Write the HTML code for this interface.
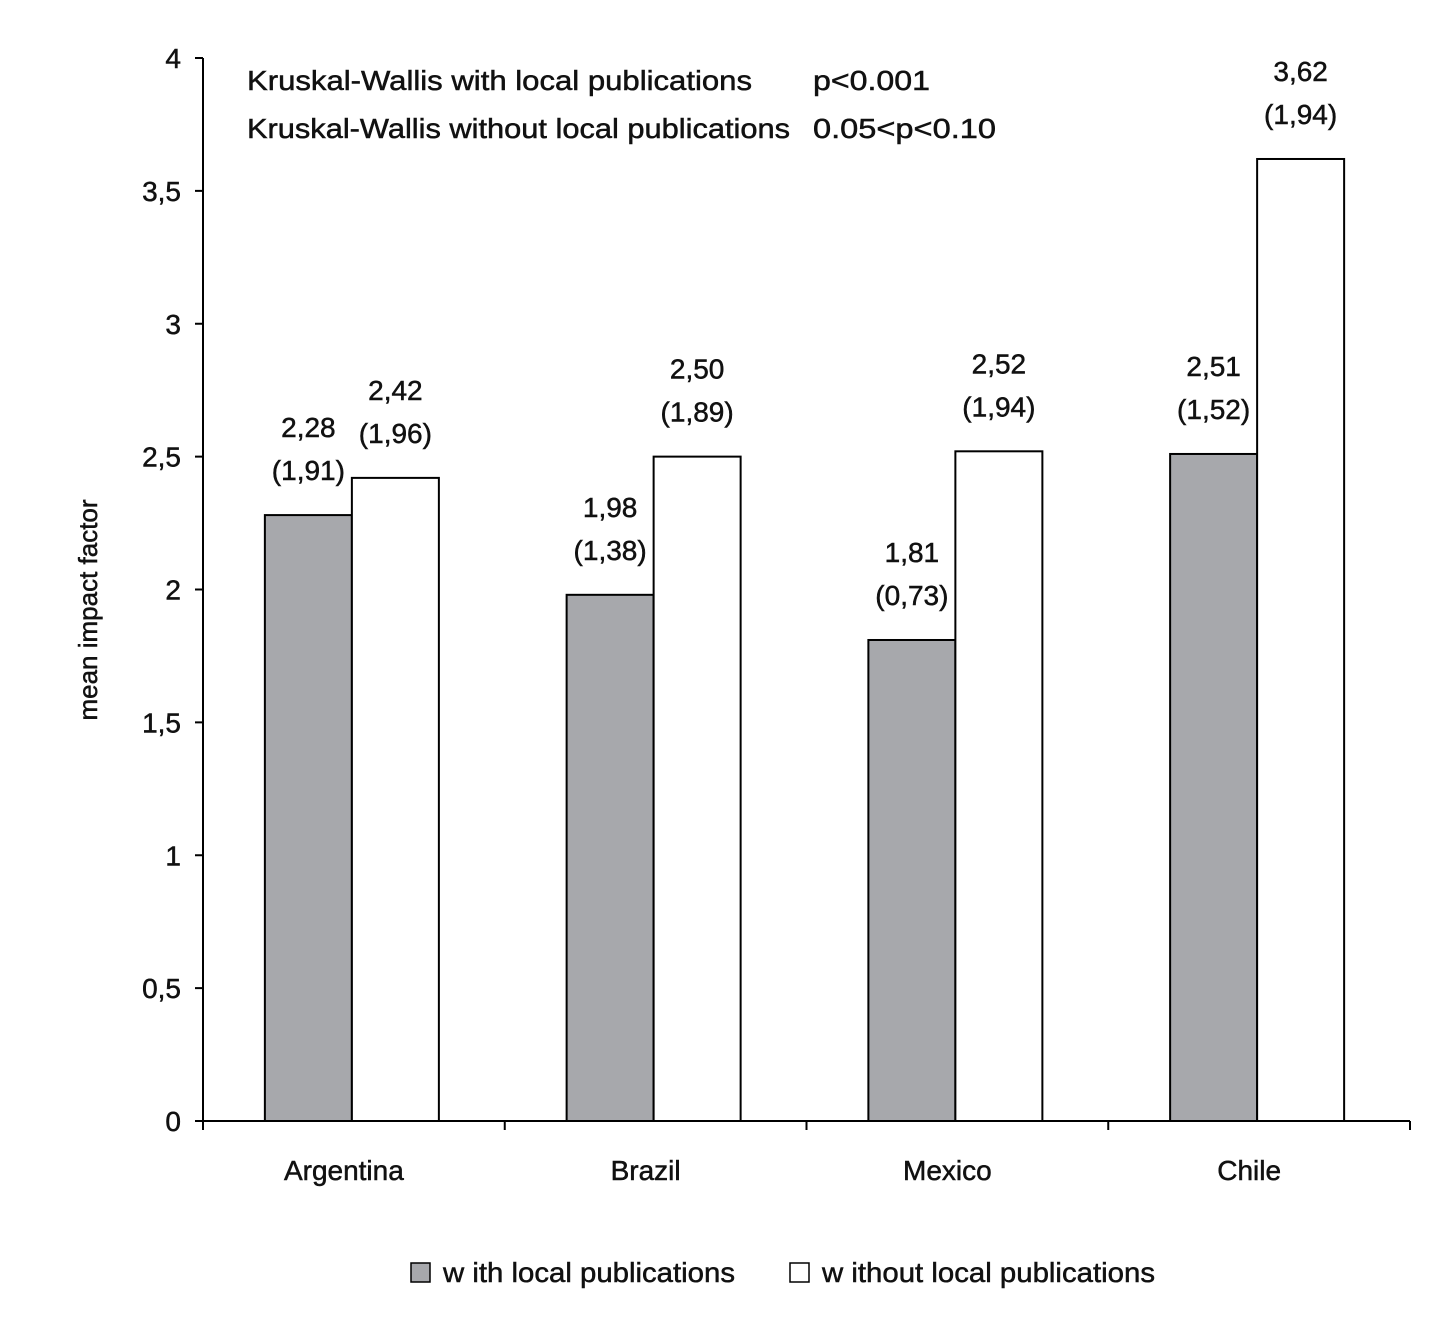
<!DOCTYPE html>
<html><head><meta charset="utf-8"><style>
body{margin:0;background:#fff}
svg text{font-family:"Liberation Sans Narrow","Liberation Sans",sans-serif;fill:#111;stroke:#111;stroke-width:0.5}
</style></head><body>
<svg width="1450" height="1316" viewBox="0 0 1450 1316">
<g id="chart"></g>
</svg>
<script>
const categories=["Argentina","Brazil","Mexico","Chile"];
const withLocal=[2.28,1.98,1.81,2.51];
const withoutLocal=[2.42,2.50,2.52,3.62];
const withLocalSd=["1,91","1,38","0,73","1,52"];
const withoutLocalSd=["1,96","1,89","1,94","1,94"];
const yTicks=[0,0.5,1,1.5,2,2.5,3,3.5,4];
const yTickLabels=["0","0,5","1","1,5","2","2,5","3","3,5","4"];

const NS="http://www.w3.org/2000/svg";
const g=document.getElementById('chart');
const x0=203,x1=1410,yBase=1121,yTop=58;
const y=v=>yBase-(v/4)*(yBase-yTop);
const catW=(x1-x0)/categories.length;
const bw=87;
function el(t,a,txt){const e=document.createElementNS(NS,t);for(const k in a)e.setAttribute(k,a[k]);if(txt!==undefined)e.textContent=txt;g.appendChild(e);return e;}
const fmt=v=>v.toFixed(2).replace('.',',');

let e=el('line',{x1:x0,y1:yTop,x2:x0,y2:yBase,stroke:'#000','stroke-width':2});

e=el('line',{x1:x0,y1:yBase,x2:x1,y2:yBase,stroke:'#000','stroke-width':2});

yTicks.forEach((t,i)=>{
 el('line',{x1:x0-8,y1:y(t),x2:x0,y2:y(t),stroke:'#000','stroke-width':2});
 e=el('text',{x:x0-22,y:y(t)+10,'text-anchor':'end','font-size':28},yTickLabels[i]);
 
});
for(let i=0;i<=categories.length;i++){el('line',{x1:x0+i*catW,y1:yBase,x2:x0+i*catW,y2:yBase+9,stroke:'#000','stroke-width':2});}
categories.forEach((c,i)=>{
 const cx=x0+catW*(i+0.5);
 e=el('text',{x:cx-10,y:1180,'text-anchor':'middle','font-size':28},c);
 
 const bars=[[withLocal[i],withLocalSd[i],'#a7a8ac',cx-bw-2],[withoutLocal[i],withoutLocalSd[i],'#fff',cx-2]];
 bars.forEach((b,j)=>{
  e=el('rect',{x:b[3],y:y(b[0]),width:bw,height:yBase-y(b[0]),fill:b[2],stroke:'#000','stroke-width':2});
  
  e=el('text',{x:b[3]+bw/2,y:y(b[0])-78,'text-anchor':'middle','font-size':28},fmt(b[0]));
  
  e=el('text',{x:b[3]+bw/2,y:y(b[0])-35,'text-anchor':'middle','font-size':28},'('+b[1]+')');
  
 });
});
e=el('text',{x:97,y:610,'text-anchor':'middle','font-size':26,transform:'rotate(-90 97 610)'},'mean impact factor');

e=el('text',{x:247,y:90,'font-size':28,textLength:505,lengthAdjust:'spacingAndGlyphs'},'Kruskal-Wallis with local publications');

e=el('text',{x:813,y:90,'font-size':28,textLength:117,lengthAdjust:'spacingAndGlyphs'},'p<0.001');

e=el('text',{x:247,y:138,'font-size':28,textLength:543,lengthAdjust:'spacingAndGlyphs'},'Kruskal-Wallis without local publications');

e=el('text',{x:813,y:138,'font-size':28,textLength:183,lengthAdjust:'spacingAndGlyphs'},'0.05<p<0.10');

e=el('rect',{x:411,y:1263,width:19,height:19,fill:'#a7a8ac',stroke:'#000','stroke-width':1.5});

e=el('text',{x:443,y:1282,'font-size':28,textLength:292,lengthAdjust:'spacingAndGlyphs'},'w ith local publications');

e=el('rect',{x:790,y:1263,width:19,height:19,fill:'#fff',stroke:'#000','stroke-width':1.5});

e=el('text',{x:822,y:1282,'font-size':28,textLength:333,lengthAdjust:'spacingAndGlyphs'},'w ithout local publications');

</script>
</body></html>
